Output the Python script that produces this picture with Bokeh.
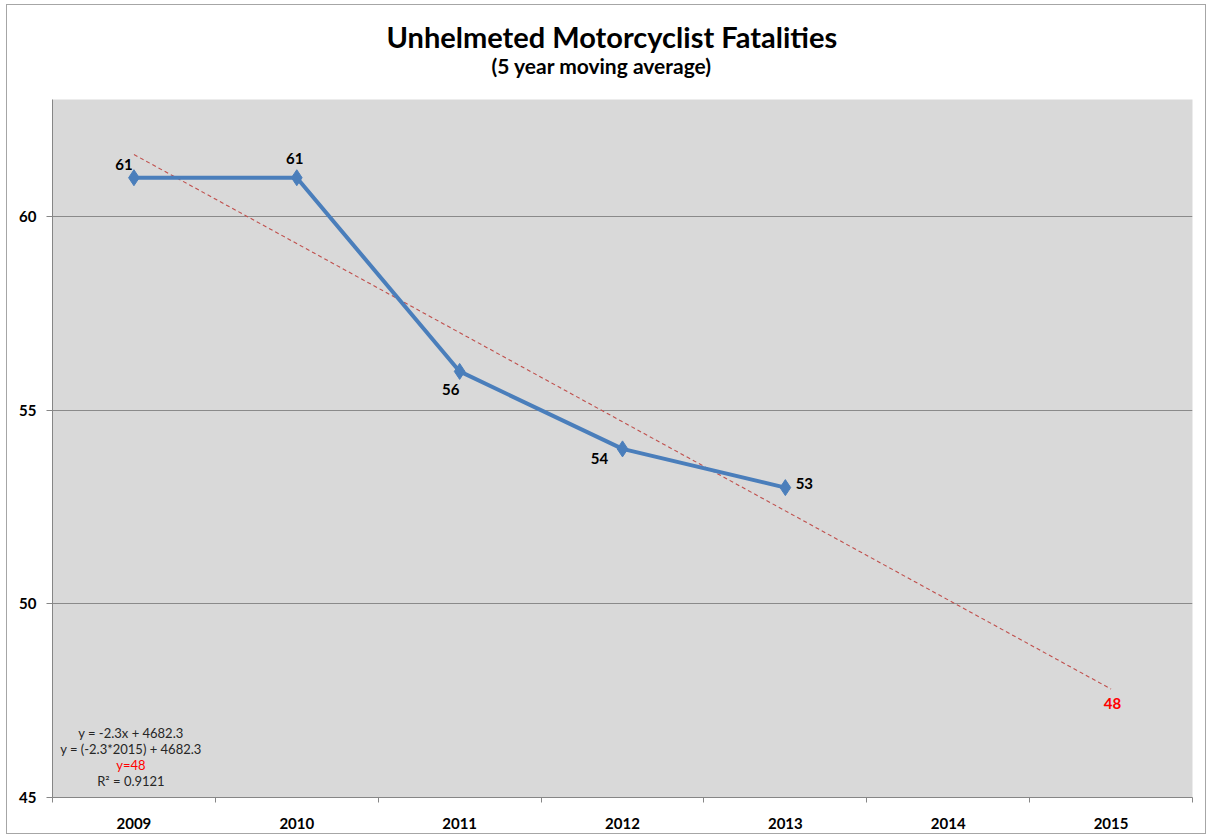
import numpy as np
from bokeh.plotting import figure
from bokeh.models import FixedTicker, Title, Range1d, Label, ColumnDataSource, LabelSet
from bokeh.embed import file_html
from bokeh.resources import INLINE
from bokeh.core.properties import value

# ---- data ----
title_text = "Unhelmeted Motorcyclist Fatalities"
subtitle_text = "(5 year moving average)"
years = [2009, 2010, 2011, 2012, 2013]
fatalities = [61, 61, 56, 54, 53]
axis_years = [2009, 2010, 2011, 2012, 2013, 2014, 2015]
y_ticks = [45, 50, 55, 60]
target_year = 2015
eq_lines = ["y = -2.3x + 4682.3", "y = (-2.3*2015) + 4682.3", "y=48", "R\u00b2 = 0.9121"]
eq_colors = ["#262626", "#262626", "#ff0000", "#262626"]

FONT = "Lato"
Y_MIN, Y_MAX = 45, 63.02
X_MIN, X_MAX = 2008.5, 2015.5

p = figure(width=1200, height=830, output_backend="svg", toolbar_location=None,
           x_range=Range1d(X_MIN, X_MAX), y_range=Range1d(Y_MIN, Y_MAX),
           min_border_left=45, min_border_right=15, min_border_top=94, min_border_bottom=38)
p.background_fill_color = "#d9d9d9"
p.border_fill_color = "white"
p.outline_line_color = None
p.styles = {"border": "1px solid #a6a6a6", "margin": "4px 0px 0px 6px"}

p.title.text = title_text
p.title.align = "left"
p.title.offset = 334
p.title.text_font = FONT
p.title.text_font_size = "29px"
p.title.text_font_style = "bold"
p.title.text_color = "black"
p.title.standoff = -49
p.add_layout(Title(text=subtitle_text, align="left", offset=439, text_font=FONT,
                   text_font_size="21px", text_font_style="bold", text_color="black",
                   standoff=43), "above")

# axes
p.xaxis.ticker = FixedTicker(ticks=axis_years, minor_ticks=[y - 0.5 for y in axis_years] + [axis_years[-1] + 0.5])
p.xaxis.major_tick_out = 0
p.xaxis.major_tick_in = 0
p.xaxis.minor_tick_out = 5
p.xaxis.minor_tick_in = 0
p.xaxis.minor_tick_line_color = "#868686"
p.xaxis.axis_line_color = "#868686"
p.xaxis.major_label_standoff = 15
p.xaxis.major_label_text_font = FONT
p.xaxis.major_label_text_font_style = "bold"
p.xaxis.major_label_text_font_size = "15px"
p.xaxis.major_label_text_color = "black"

p.yaxis.ticker = FixedTicker(ticks=y_ticks)
p.yaxis.major_tick_out = 6
p.yaxis.major_tick_in = 0
p.yaxis.minor_tick_line_color = None
p.yaxis.major_tick_line_color = "#868686"
p.yaxis.axis_line_color = "#868686"
p.yaxis.major_label_standoff = 10
p.yaxis.major_label_text_font = FONT
p.yaxis.major_label_text_font_style = "bold"
p.yaxis.major_label_text_font_size = "15px"
p.yaxis.major_label_text_color = "black"

p.xgrid.grid_line_color = None
p.ygrid.grid_line_color = "#8a8a8a"
p.ygrid.grid_line_width = 1

# trend line (least squares fit extended to target year)
coef = np.polyfit(np.array(years) - years[0], fatalities, 1)
tx = [years[0], target_year]
ty = [coef[1], coef[0] * (target_year - years[0]) + coef[1]]
p.line(tx, ty, line_color="#c0504d", line_width=1.1, line_dash="4 3")

# data
src = ColumnDataSource(dict(x=years, y=fatalities, t=[str(v) for v in fatalities],
                            dx=[-10, -2, -9, -23, 19], dy=[13, 19, -18, -10, 4]))
p.line("x", "y", source=src, line_color="#4a7ebb", line_width=4)
p.scatter("x", "y", source=src, marker="diamond", size=16, fill_color="#4a7ebb", line_color="#4a7ebb")
p.add_layout(LabelSet(x="x", y="y", text="t", source=src, x_offset="dx", y_offset="dy",
                      text_align="center", text_baseline="middle", text_font=value(FONT),
                      text_font_style="bold", text_font_size="15px", text_color="black"))

p.add_layout(Label(x=target_year, y=ty[1], x_offset=1.5, y_offset=-14, text=str(int(round(ty[1]))),
                   text_align="center", text_baseline="middle", text_font=FONT,
                   text_font_style="bold", text_font_size="15px", text_color="#ff0000"))

for i, (t, c) in enumerate(zip(eq_lines, eq_colors)):
    p.add_layout(Label(x=years[0], y=Y_MIN, x_offset=-3, y_offset=65 - i * 16.3, text=t, text_align="center",
                       text_baseline="middle", text_font=FONT, text_font_size="13px",
                       text_color=c))

open("out.html", "w").write(file_html(p, INLINE))
